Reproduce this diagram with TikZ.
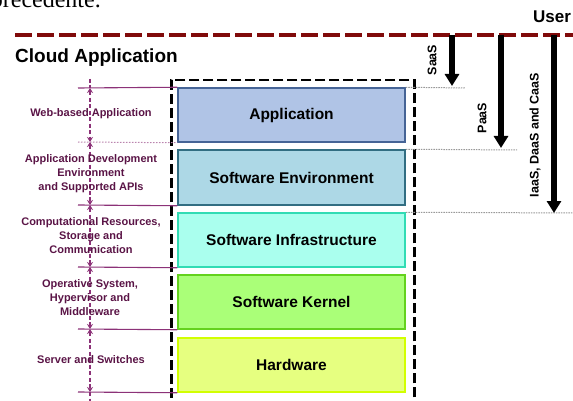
\documentclass[tikz,border=0pt]{standalone}
\usepackage{fontspec}
\setmainfont{Liberation Sans}
\newfontfamily\serifx{Liberation Serif}
\usetikzlibrary{arrows.meta}
\definecolor{cRed}{RGB}{128,10,10}
\definecolor{cPurLine}{RGB}{140,50,120}
\definecolor{cPurText}{RGB}{90,20,70}
\definecolor{cAppF}{RGB}{176,196,230}
\definecolor{cAppD}{RGB}{70,100,150}
\definecolor{cEnvF}{RGB}{173,216,230}
\definecolor{cEnvD}{RGB}{50,110,130}
\definecolor{cInfF}{RGB}{170,255,238}
\definecolor{cInfD}{RGB}{50,220,180}
\definecolor{cKerF}{RGB}{170,255,120}
\definecolor{cKerD}{RGB}{100,210,30}
\definecolor{cHwF}{RGB}{230,255,128}
\definecolor{cHwD}{RGB}{210,255,0}
\tikzset{
  layerbox/.style={draw, line width=1.5pt, minimum width=227pt, minimum height=54pt,
    inner sep=0pt, font=\fontsize{15.5}{18}\selectfont\bfseries},
  sidelabel/.style={align=center, text=cPurText, inner sep=0pt,
    font=\fontsize{11}{14}\selectfont\bfseries},
  redline/.style={draw=cRed, line width=3.5pt, dash pattern=on 17pt off 5pt},
  stackbox/.style={draw, line width=2.5pt, dash pattern=on 10pt off 4pt},
  pline/.style={draw=cPurLine, line width=1.1pt},
  pdotted/.style={draw=cPurLine!60, line width=1pt, dash pattern=on 1.5pt off 1.5pt},
  pvert/.style={draw=cPurLine, line width=1.6pt, dash pattern=on 4pt off 2.5pt,
    {Stealth[length=5pt,width=6pt]}-{Stealth[length=5pt,width=6pt]}},
  gdot/.style={draw=gray!80, line width=1pt, dash pattern=on 1.5pt off 1pt},
  bigarrow/.style={line width=6pt, -{Triangle[width=14pt,length=12pt]}},
  arrlabel/.style={rotate=90, inner sep=0pt, font=\fontsize{12.5}{14}\selectfont\bfseries},
}
\begin{document}
\begin{tikzpicture}[x=1pt,y=-1pt]
\useasboundingbox (0,0) rectangle (573,401);

% clipped text line from the page above
\node[anchor=base east, inner sep=0pt, font=\serifx\fontsize{24}{28}\selectfont] (prec) at (101,7.5) {precedente.};

% titles
\node[anchor=base west, inner sep=0pt, font=\fontsize{17}{20}\selectfont\bfseries] (user) at (533,23) {User};
\node[anchor=base west, inner sep=0pt, font=\fontsize{19}{22}\selectfont\bfseries] (cloud) at (15,63) {Cloud Application};

% top user line
\coordinate (tl) at (15,35);
\coordinate (tr) at (576,35);
\draw[redline] (tl) -- (tr);

% dashed stack container
\node[stackbox, anchor=north west, minimum width=243pt, minimum height=340pt, inner sep=0pt] (stack) at (170,79) {};

% layers
\node[layerbox, fill=cAppF, draw=cAppD] (app) at (291.5,115) {Application};
\node[layerbox, fill=cEnvF, draw=cEnvD, minimum height=55pt] (env) at (291.5,177.5) {Software Environment};
\node[layerbox, fill=cInfF, draw=cInfD] (inf) at (291.5,240) {Software Infrastructure};
\node[layerbox, fill=cKerF, draw=cKerD] (ker) at (291.5,302) {Software Kernel};
\node[layerbox, fill=cHwF, draw=cHwD] (hw) at (291.5,365) {Hardware};

% left boundary lines
\coordinate (l1) at (78,88);
\coordinate (l2) at (78,142);
\coordinate (l3) at (78,205);
\coordinate (l4) at (78,267);
\coordinate (l5) at (78,329);
\coordinate (l6) at (78,392);
\draw[pline] (l1) -- (app.north west);
\draw[pdotted] (l2) -- (app.south west);
\draw[pline] (l3) -- (env.south west);
\draw[pline] (l4) -- (inf.south west);
\draw[pline] (l5) -- (ker.south west);
\draw[pline] (l6) -- (hw.south west);

% vertical purple dimension line
\coordinate (v0) at (90,79);
\coordinate (v1) at (90,88);
\coordinate (v2) at (90,142);
\coordinate (v3) at (90,205);
\coordinate (v4) at (90,267);
\coordinate (v5) at (90,329);
\coordinate (v6) at (90,392);
\coordinate (v7) at (90,403);
\draw[draw=cPurLine, line width=1.6pt, dash pattern=on 4pt off 2.5pt] (v0) -- (v1);
\draw[pvert] (v1) -- (v2);
\draw[pvert] (v2) -- (v3);
\draw[pvert] (v3) -- (v4);
\draw[pvert] (v4) -- (v5);
\draw[pvert] (v5) -- (v6);
\draw[draw=cPurLine, line width=1.6pt, dash pattern=on 4pt off 2.5pt] (v6) -- (v7);

% side labels
\node[sidelabel] (lab1) at (91,114) {Web-based Application};
\node[sidelabel] (lab2) at (91,174) {Application Development\\Environment\\and Supported APIs};
\node[sidelabel] (lab3) at (91,236) {Computational Resources,\\Storage and\\Communication};
\node[sidelabel] (lab4) at (90,298) {Operative System,\\Hypervisor and\\Middleware};
\node[sidelabel] (lab5) at (91,360) {Server and Switches};

% right dotted reference lines
\coordinate (d1) at (465,88);
\coordinate (d2) at (517,150);
\coordinate (d3) at (576,213);
\draw[gdot] (app.north east) -- (d1);
\draw[gdot] (env.north east) -- (d2);
\draw[gdot] (inf.north east) -- (d3);

% service arrows
\coordinate (saT) at (452,35);
\coordinate (saB) at (452,86);
\coordinate (paT) at (501,35);
\coordinate (paB) at (501,148);
\coordinate (iaT) at (554,35);
\coordinate (iaB) at (554,213);
\draw[bigarrow] (saT) -- (saB);
\draw[bigarrow] (paT) -- (paB);
\draw[bigarrow] (iaT) -- (iaB);

\node[arrlabel] (saas) at (432,60) {SaaS};
\node[arrlabel] (paas) at (482,118) {PaaS};
\node[arrlabel] (iaas) at (535,135) {IaaS, DaaS and CaaS};
\end{tikzpicture}
\end{document}
